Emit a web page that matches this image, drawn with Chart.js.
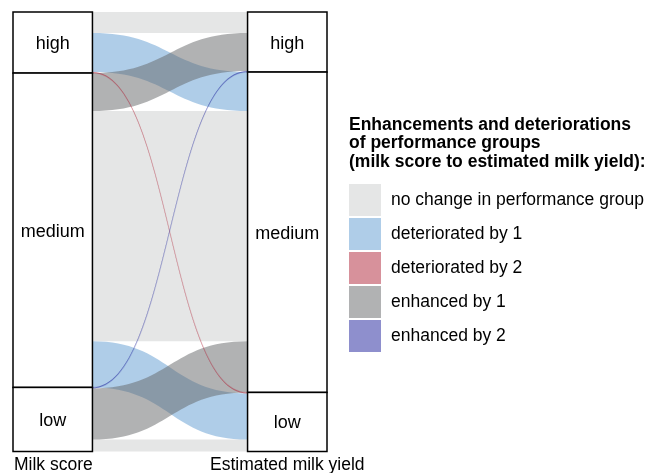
<!DOCTYPE html>
<html>
<head>
<meta charset="utf-8">
<script src="https://cdn.jsdelivr.net/npm/chart.js@4/dist/chart.umd.min.js"></script>
<style>
  html, body { margin: 0; padding: 0; background: #ffffff; }
  #wrap { width: 654px; height: 473px; position: relative; }
</style>
</head>
<body>
<div id="wrap"><canvas id="c" width="654" height="473"></canvas></div>
<script>
// ---- data ----
const categories = ['high', 'medium', 'low'];
const axisLabels = ['Milk score', 'Estimated milk yield'];
// flows from Milk score group (row) to Estimated milk yield group (column)
const fromHigh   = [21, 39, 1];
const fromMedium = [38, 230, 46];
const fromLow    = [1, 51, 12];
const legendTitle = ['Enhancements and deteriorations', 'of performance groups', '(milk score to estimated milk yield):'];
const legendLabels = ['no change in performance group', 'deteriorated by 1', 'deteriorated by 2', 'enhanced by 1', 'enhanced by 2'];

// ---- styles ----
const fillColors = {
  'no change in performance group': 'rgba(203,205,205,0.5)',
  'deteriorated by 1': 'rgba(95,155,210,0.5)',
  'deteriorated by 2': 'rgba(175,35,55,0.5)',
  'enhanced by 1': 'rgba(100,102,104,0.5)',
  'enhanced by 2': 'rgba(30,32,155,0.5)'
};
const drawOrder = ['no change in performance group', 'deteriorated by 1', 'enhanced by 1', 'deteriorated by 2', 'enhanced by 2'];
const FONT = '"Liberation Sans", Arial, sans-serif';
const strataWidth = 0.253; // in x-scale units

const flows = [fromHigh, fromMedium, fromLow];
function flowType(i, j) {
  if (i === j) return legendLabels[0];
  if (j > i) return j - i === 1 ? legendLabels[1] : legendLabels[2];
  return i - j === 1 ? legendLabels[3] : legendLabels[4];
}
const total = flows.reduce((s, r) => s + r.reduce((a, b) => a + b, 0), 0);

const alluvialPlugin = {
  id: 'alluvial',
  afterDatasetsDraw(chart) {
    const ctx = chart.ctx;
    const xs = chart.scales.x, ys = chart.scales.y;
    const n = categories.length;
    const leftTot = flows.map(r => r.reduce((a, b) => a + b, 0));
    const rightTot = categories.map((_, j) => flows.reduce((s, r) => s + r[j], 0));
    const leftStart = [], rightStart = [];
    let acc = 0; for (let i = 0; i < n; i++) { leftStart.push(acc); acc += leftTot[i]; }
    acc = 0; for (let j = 0; j < n; j++) { rightStart.push(acc); acc += rightTot[j]; }
    const segs = [];
    const lOff = leftStart.slice();
    for (let i = 0; i < n; i++) {
      for (let j = 0; j < n; j++) {
        segs.push({ i, j, v: flows[i][j], l0: lOff[i] });
        lOff[i] += flows[i][j];
      }
    }
    const rOff = rightStart.slice();
    for (let j = 0; j < n; j++) {
      for (let i = 0; i < n; i++) {
        const s = segs.find(s => s.i === i && s.j === j);
        s.r0 = rOff[j];
        rOff[j] += flows[i][j];
      }
    }
    const xL = xs.getPixelForValue(strataWidth);
    const xR = xs.getPixelForValue(1 - strataWidth);
    const xm = (xL + xR) / 2;
    ctx.save();
    drawOrder.forEach(type => {
      segs.filter(s => flowType(s.i, s.j) === type && s.v > 0).forEach(s => {
        const yl0 = ys.getPixelForValue(s.l0), yl1 = ys.getPixelForValue(s.l0 + s.v);
        const yr0 = ys.getPixelForValue(s.r0), yr1 = ys.getPixelForValue(s.r0 + s.v);
        ctx.beginPath();
        ctx.moveTo(xL, yl0);
        ctx.bezierCurveTo(xm, yl0, xm, yr0, xR, yr0);
        ctx.lineTo(xR, yr1);
        ctx.bezierCurveTo(xm, yr1, xm, yl1, xL, yl1);
        ctx.closePath();
        ctx.fillStyle = fillColors[type];
        ctx.fill();
        if (Math.abs(yl1 - yl0) < 2) {
          ctx.strokeStyle = fillColors[type];
          ctx.lineWidth = 0.3;
          ctx.stroke();
        }
      });
    });
    // strata
    ctx.lineWidth = 1.5;
    ctx.strokeStyle = '#000000';
    ctx.font = '18px ' + FONT;
    ctx.textAlign = 'center';
    ctx.textBaseline = 'middle';
    [[0, leftStart, leftTot], [1 - strataWidth, rightStart, rightTot]].forEach(([x0, starts, tots]) => {
      const px0 = xs.getPixelForValue(x0), px1 = xs.getPixelForValue(x0 + strataWidth);
      for (let k = 0; k < n; k++) {
        const py0 = ys.getPixelForValue(starts[k]), py1 = ys.getPixelForValue(starts[k] + tots[k]);
        ctx.fillStyle = '#ffffff';
        ctx.fillRect(px0, py0, px1 - px0, py1 - py0);
        ctx.strokeRect(px0, py0, px1 - px0, py1 - py0);
        ctx.fillStyle = '#000000';
        ctx.fillText(categories[k], (px0 + px1) / 2, (py0 + py1) / 2 + 1.5);
      }
    });
    // axis labels
    ctx.font = '17.5px ' + FONT;
    ctx.textBaseline = 'alphabetic';
    ctx.textAlign = 'left';
    ctx.fillText(axisLabels[0], xs.getPixelForValue(0) + 1, 470);
    ctx.textAlign = 'center';
    ctx.fillText(axisLabels[1], (xs.getPixelForValue(1 - strataWidth) + xs.getPixelForValue(1)) / 2, 470);
    // legend
    const lx = 349;
    ctx.textAlign = 'left';
    ctx.textBaseline = 'middle';
    ctx.font = 'bold 17.5px ' + FONT;
    legendTitle.forEach((t, k) => ctx.fillText(t, lx, 125 + k * 18.5));
    ctx.font = '17.5px ' + FONT;
    legendLabels.forEach((lab, k) => {
      const top = 184 + k * 34;
      ctx.fillStyle = fillColors[lab];
      ctx.fillRect(lx, top, 32, 32);
      ctx.fillStyle = '#000000';
      ctx.fillText(lab, 391, top + 16);
    });
    ctx.restore();
  }
};

new Chart(document.getElementById('c'), {
  type: 'scatter',
  data: { datasets: [{ data: [], showLine: false }] },
  options: {
    responsive: false,
    animation: false,
    layout: { padding: { left: 13, top: 12, right: 654 - 327, bottom: 473 - 451.5 } },
    plugins: { legend: { display: false }, tooltip: { enabled: false } },
    scales: {
      x: { type: 'linear', min: 0, max: 1, display: false },
      y: { type: 'linear', min: 0, max: total, reverse: true, display: false }
    }
  },
  plugins: [alluvialPlugin]
});
</script>
</body>
</html>
